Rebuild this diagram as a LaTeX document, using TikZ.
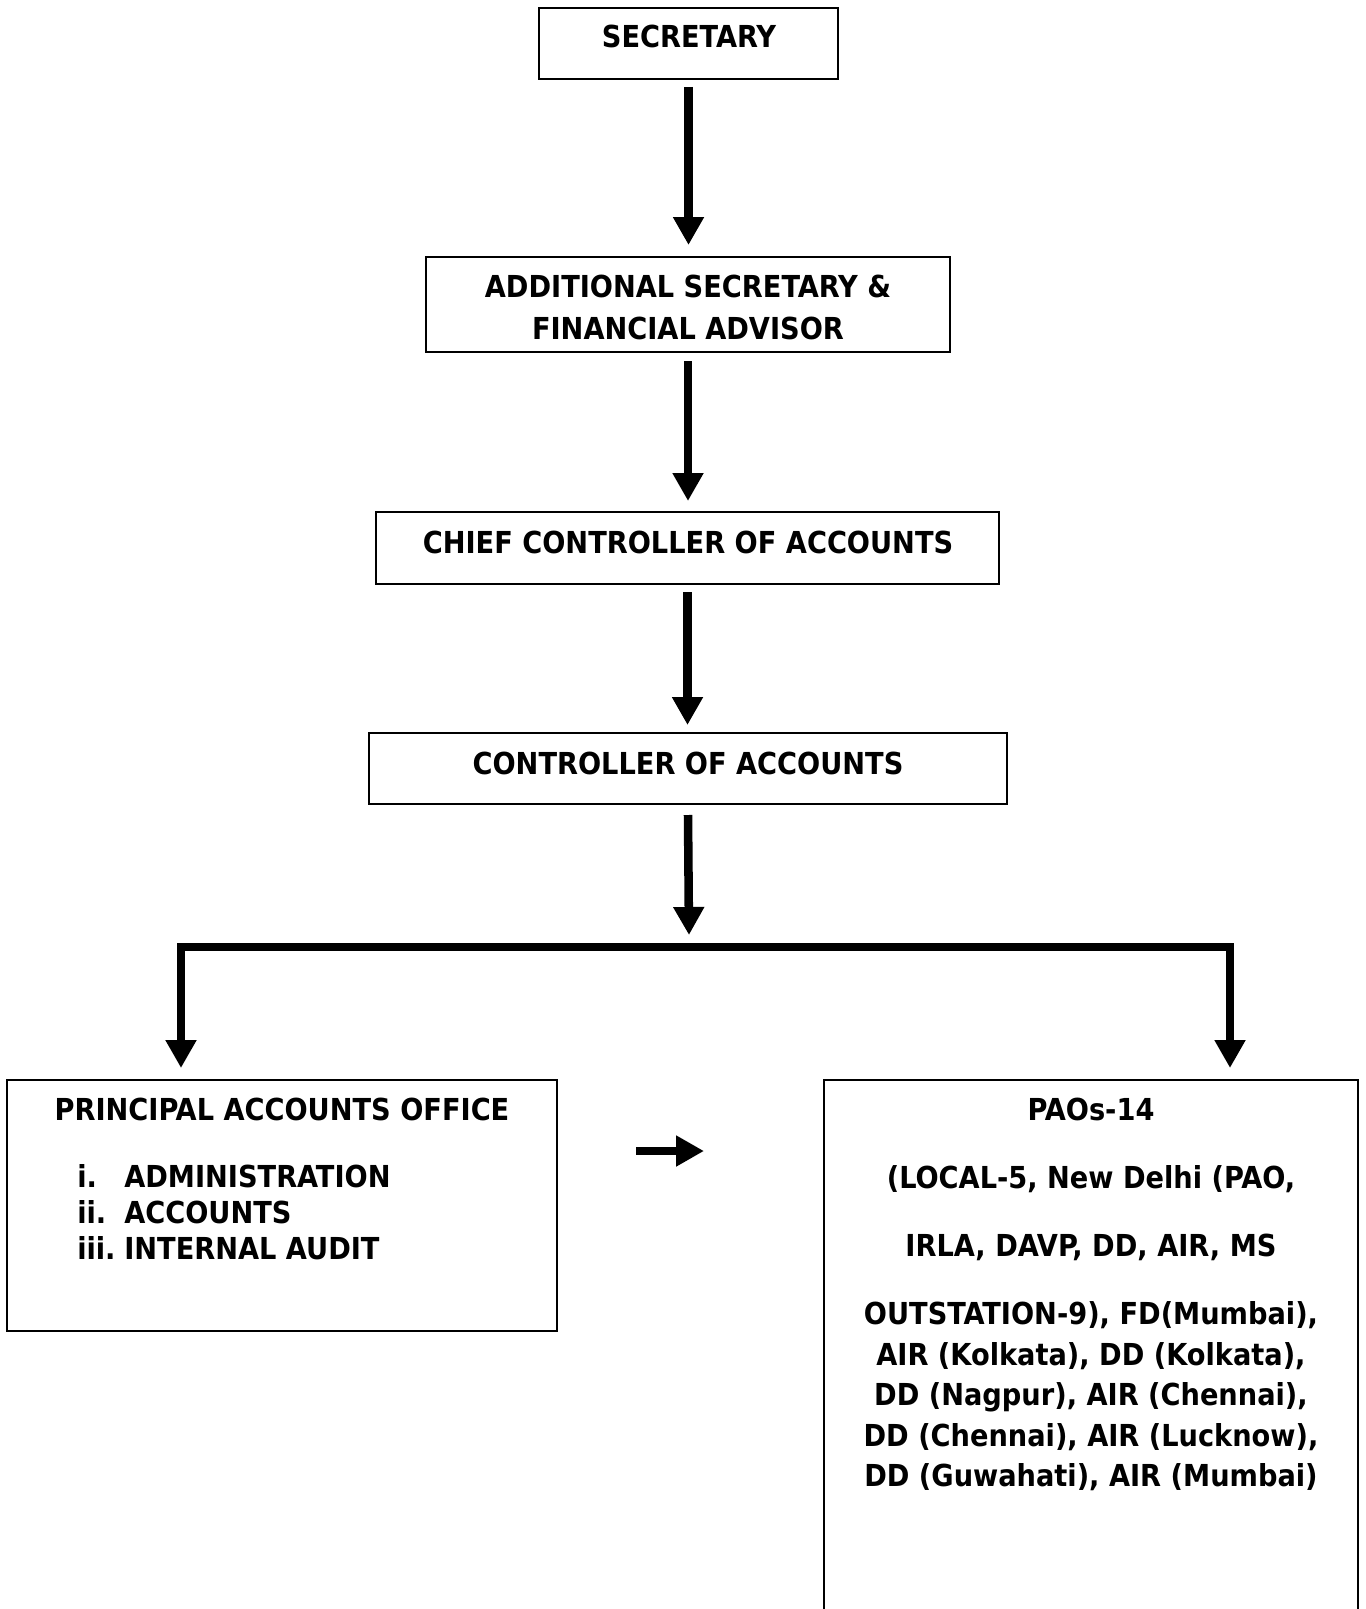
\documentclass[tikz,border=0pt]{standalone}
\usepackage{fontspec}
\setmainfont{DejaVu Sans Condensed}
\usetikzlibrary{arrows.meta}
\newdimen\pxu \pxu=0.75pt
\begin{document}
\begin{tikzpicture}[x=0.75pt,y=-0.75pt,
  box/.style={draw,line width=1.5pt,inner sep=0pt,outer sep=0pt},
  txt/.style={font=\bfseries\fontsize{22.7pt}{30pt}\selectfont,inner sep=0pt,anchor=base},
  ltxt/.style={txt,anchor=base west},
  arr/.style={line width=6.4pt,-{Triangle[width=22pt,length=21pt]}},
  bararr/.style={line width=6.4pt,line join=miter,{Triangle[width=22pt,length=21pt]}-{Triangle[width=22pt,length=21pt]}}
]
\useasboundingbox (0,0) rectangle (1365,1609);
\fill[white] (0,0) rectangle (1365,1609);

% boxes
\node[box,minimum width=299\pxu,minimum height=71\pxu] (sec) at (688.5,43.5) {};
\node[box,minimum width=524\pxu,minimum height=95\pxu] (asfa) at (688,304.5) {};
\node[box,minimum width=623\pxu,minimum height=72\pxu] (cca) at (687.5,548) {};
\node[box,minimum width=638\pxu,minimum height=71\pxu] (ca) at (688,768.5) {};
\node[box,minimum width=550\pxu,minimum height=251\pxu] (pao) at (282,1205.5) {};
\node[box,minimum width=534\pxu,minimum height=580\pxu] (paos) at (1091,1370) {};

% texts
\node[txt] (tsec) at (689,48) {SECRETARY};
\node[txt] (tasfa1) at (688,297) {ADDITIONAL SECRETARY \&};
\node[txt] (tasfa2) at (688,339) {FINANCIAL ADVISOR};
\node[txt] (tcca) at (688,553) {CHIEF CONTROLLER OF ACCOUNTS};
\node[txt] (tca) at (688,774) {CONTROLLER OF ACCOUNTS};

\node[txt] (tpao) at (282,1120) {PRINCIPAL ACCOUNTS OFFICE};
\node[ltxt] (l1) at (77,1187) {i.};
\node[ltxt] (i1) at (124,1187) {ADMINISTRATION};
\node[ltxt] (l2) at (77,1223) {ii.};
\node[ltxt] (i2) at (124,1223) {ACCOUNTS};
\node[ltxt] (l3) at (77,1259) {iii.};
\node[ltxt] (i3) at (124,1259) {INTERNAL AUDIT};

\node[txt] (p1) at (1091,1120) {PAOs-14};
\node[txt] (p2) at (1091,1188) {(LOCAL-5, New Delhi (PAO,};
\node[txt] (p3) at (1091,1256) {IRLA, DAVP, DD, AIR, MS};
\node[txt] (p4) at (1091,1324) {OUTSTATION-9), FD(Mumbai),};
\node[txt] (p5) at (1091,1365) {AIR (Kolkata), DD (Kolkata),};
\node[txt] (p6) at (1091,1405) {DD (Nagpur), AIR (Chennai),};
\node[txt] (p7) at (1091,1446) {DD (Chennai), AIR (Lucknow),};
\node[txt] (p8) at (1091,1486) {DD (Guwahati), AIR (Mumbai)};

% connectors
\coordinate (bar) at (689,947);
\coordinate (barL) at (181,947);
\coordinate (barR) at (1230,947);
\coordinate (sa) at (636,1151);
\coordinate (sb) at (704,1151);

\draw[arr] ([yshift=-8\pxu]sec.south) -- ([yshift=12\pxu]sec.south |- asfa.north);
\draw[arr] ([yshift=-9\pxu]asfa.south) -- ([yshift=11\pxu]asfa.south |- cca.north);
\draw[arr] ([yshift=-8\pxu]cca.south) -- ([yshift=8\pxu]cca.south |- ca.north);
\draw[arr] ([yshift=-11\pxu]ca.south) -- ([yshift=12\pxu]bar);
\draw[bararr] ([yshift=12\pxu]barL |- pao.north) -- (barL) -- (barR) -- ([yshift=12\pxu]barR |- paos.north);
\draw[arr] (sa) -- (sb);
\end{tikzpicture}
\end{document}
